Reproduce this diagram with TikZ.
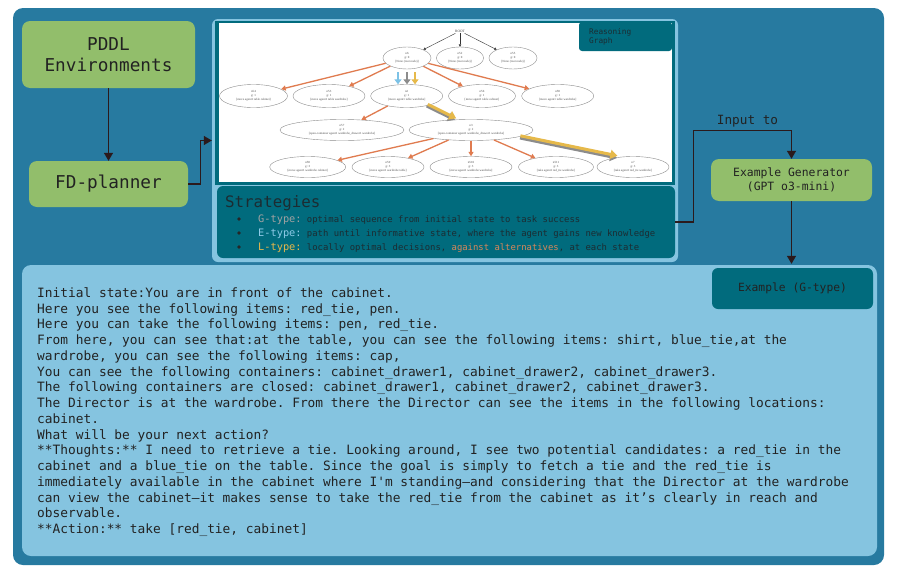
\documentclass[tikz,border=0pt]{standalone}
\usepackage{fontspec}
\setmonofont{DejaVu Sans Mono}
\newfontfamily\gfont{Liberation Serif}
\usetikzlibrary{shapes.geometric,arrows.meta,calc}
\definecolor{outerblue}{HTML}{277AA0}
\definecolor{lightpanel}{HTML}{85C4E0}
\definecolor{tealbox}{HTML}{016B7D}
\definecolor{greenbox}{HTML}{92BE6B}
\definecolor{connc}{HTML}{2B1A1C}
\definecolor{txtdark}{HTML}{222222}
\definecolor{orangee}{HTML}{E07B4F}
\definecolor{blueA}{HTML}{7DC2E6}
\definecolor{grayA}{HTML}{8C8C8C}
\definecolor{yellowA}{HTML}{E6B94A}
\definecolor{gtypec}{HTML}{A2A2A2}
\definecolor{etypec}{HTML}{8FCBE8}
\definecolor{ltypec}{HTML}{E8B84A}
\definecolor{altc}{HTML}{D9875A}
\definecolor{desc}{HTML}{1C2C32}
\begin{document}
\begin{tikzpicture}[x=1pt,y=-1pt,
  greenbox/.style={fill=greenbox,rounded corners=8pt,inner sep=0pt,align=center,text=txtdark},
  tealnode/.style={fill=tealbox,rounded corners=6pt,inner sep=0pt,align=center,text=txtdark},
  conn/.style={draw=connc,line width=1.3pt,-{Triangle[length=8pt,width=9pt]}},
  gnode/.style={ellipse,draw=black!45,line width=0.4pt,fill=white,inner sep=0pt,align=center,text=black!70,
    font=\gfont\fontsize{3.1}{4.1}\selectfont},
  oedge/.style={draw=orangee,line width=1.3pt,-{Triangle[length=4.5pt,width=5pt]}},
  redge/.style={draw=black!80,line width=0.4pt,-{Triangle[length=2.5pt,width=2.5pt]}},
  shortarrow/.style={line width=2.6pt,-{Triangle[length=5pt,width=7pt]}},
  pathG/.style={draw=grayA,line width=3pt,-{Triangle[length=7pt,width=9pt]}},
  pathY/.style={draw=yellowA,line width=3pt,-{Triangle[length=7pt,width=9pt]}},
]
\useasboundingbox (0,0) rectangle (899,573);
\fill[white] (0,0) rectangle (899,573);
% outer frame
\fill[outerblue,rounded corners=10pt] (13,8) rectangle (884,565);

% left boxes
\node[greenbox,minimum width=173pt,minimum height=67pt,font=\ttfamily\fontsize{17.7}{21}\selectfont] (pddl) at (108.5,54.5) {PDDL\\Environments};
\node[greenbox,minimum width=159pt,minimum height=46pt,font=\ttfamily\fontsize{17.7}{21}\selectfont] (fd) at (108.5,184) {FD-planner};

% upper light panel
\node[fill=lightpanel,rounded corners=6pt,minimum width=466pt,minimum height=243pt,inner sep=0pt] (panel) at (445,140.5) {};
% graph frame
\node[fill=tealbox,minimum width=460pt,minimum height=164pt,inner sep=0pt] (gframe) at (445,103) {};
\node[fill=white,minimum width=453pt,minimum height=159pt,inner sep=0pt] (gwhite) at (445.5,102.5) {};
\node[fill=tealbox,rounded corners=3pt,minimum width=93pt,minimum height=29pt,inner sep=0pt] (rgbox) at (625.5,36.5) {};
\node[anchor=north west,inner sep=0pt,align=left,text=desc,font=\ttfamily\fontsize{7.75}{9}\selectfont] (rglabel) at (589,28) {Reasoning\\Graph};

% graph nodes
\node[font=\gfont\fontsize{3.5}{4}\selectfont,inner sep=1pt,text=black!75] (root) at (460,31) {ROOT};
\node[gnode,minimum width=48pt,minimum height=22pt] (n6) at (407,58) {n6\\g: 0\\{}[None (root node)]};
\node[gnode,minimum width=47pt,minimum height=22pt] (n52) at (460,58) {n52\\g: 0\\{}[None (root node)]};
\node[gnode,minimum width=48pt,minimum height=22pt] (n55) at (513,58) {n55\\g: 0\\{}[None (root node)]};

\node[gnode,minimum width=68pt,minimum height=23pt] (a54) at (253.5,96) {n54\\g: 1\\{}[move agent1 table cabinet]};
\node[gnode,minimum width=72pt,minimum height=23pt] (a53) at (329,96) {n53\\g: 1\\{}[move agent1 table wardrobe]};
\node[gnode,minimum width=72pt,minimum height=23pt] (n2) at (406.7,96) {n2\\g: 1\\{}[move agent1 table wardrobe]};
\node[gnode,minimum width=67pt,minimum height=23pt] (a56) at (482,96) {n56\\g: 1\\{}[move agent1 table cabinet]};
\node[gnode,minimum width=72pt,minimum height=23pt] (a58) at (557.7,96) {n58\\g: 1\\{}[move agent1 table wardrobe]};

\node[gnode,minimum width=124pt,minimum height=21pt] (n57) at (342,130) {n57\\g: 2\\{}[open-container agent1 wardrobe\_drawer1 wardrobe]};
\node[gnode,minimum width=124pt,minimum height=21pt] (n3) at (471,130) {n3\\g: 2\\{}[open-container agent1 wardrobe\_drawer1 wardrobe]};

\node[gnode,minimum width=76pt,minimum height=21pt] (b58) at (307.7,167) {n58\\g: 3\\{}[move agent1 wardrobe cabinet]};
\node[gnode,minimum width=72pt,minimum height=21pt] (b59) at (388,167) {n59\\g: 3\\{}[move agent1 wardrobe table]};
\node[gnode,minimum width=82pt,minimum height=21pt] (b510) at (471,167) {n510\\g: 3\\{}[move agent1 wardrobe wardrobe]};
\node[gnode,minimum width=75pt,minimum height=21pt] (b511) at (556,167) {n511\\g: 3\\{}[take agent1 red\_tie wardrobe]};
\node[gnode,minimum width=72pt,minimum height=21pt] (n7) at (633,167) {n7\\g: 3\\{}[take agent1 red\_tie wardrobe]};

% graph edges
\draw[redge] (root) -- (n6);
\draw[redge] (root) -- (n52);
\draw[redge] (root) -- (n55);
\draw[oedge] (n6) -- (a54);
\draw[oedge] (n6) -- (a53);
\draw[oedge] (n6) -- (a56);
\draw[oedge] (n6) -- (a58);
\draw[oedge] (n2) -- (n57);
\draw[oedge] (n3) -- (b58);
\draw[oedge] (n3) -- (b59);
\draw[oedge] (n3) -- (b510);
\draw[oedge] (n3) -- (b511);
\draw[shortarrow,draw=blueA] ($(n6.south)+(-9,3)$) -- ($(n2.north)+(-8.7,0)$);
\draw[shortarrow,draw=grayA] ($(n6.south)+(0,3)$) -- ($(n2.north)+(0.3,0)$);
\draw[shortarrow,draw=yellowA] ($(n6.south)+(8,3)$) -- ($(n2.north)+(8.3,0)$);
\draw[pathG] ($(n2.center)+(20,10)$) -- ($(n3.center)+(-16,-10)$);
\draw[pathY,transform canvas={xshift=1.2pt,yshift=1.6pt}] ($(n2.center)+(20,10)$) -- ($(n3.center)+(-16,-10)$);
\draw[pathG] ($(n3.center)+(49,8)$) -- ($(n7.center)+(-16,-9)$);
\draw[pathY,transform canvas={xshift=0.4pt,yshift=2.2pt}] ($(n3.center)+(49,8)$) -- ($(n7.center)+(-16,-9)$);

% strategies
\node[tealnode,minimum width=458pt,minimum height=72pt] (strat) at (446,222) {};
\node[anchor=base west,inner sep=0pt,text=desc,font=\ttfamily\fontsize{15.8}{18}\selectfont] (sttitle) at (225,207) {Strategies};
\fill[black!85] (239,219) circle (1.8);
\fill[black!85] (239,233) circle (1.8);
\fill[black!85] (239,247) circle (1.8);
\node[anchor=base west,inner sep=0pt,text=desc,font=\ttfamily\fontsize{8.9}{10}\selectfont] (s1) at (258,222)
  {{\fontsize{10.3}{12}\selectfont\color{gtypec}G-type:} optimal sequence from initial state to task success};
\node[anchor=base west,inner sep=0pt,text=desc,font=\ttfamily\fontsize{8.9}{10}\selectfont] (s2) at (258,236)
  {{\fontsize{10.3}{12}\selectfont\color{etypec}E-type:} path until informative state, where the agent gains new knowledge};
\node[anchor=base west,inner sep=0pt,text=desc,font=\ttfamily\fontsize{8.9}{10}\selectfont] (s3) at (258,250)
  {{\fontsize{10.3}{12}\selectfont\color{ltypec}L-type:} locally optimal decisions, {\color{altc}against alternatives}, at each state};

% right side
\node[greenbox,minimum width=161pt,minimum height=42pt,font=\ttfamily\fontsize{11.4}{14}\selectfont] (gen) at (791.5,180) {Example Generator\\(GPT o3-mini)};

% bottom panel
\node[fill=lightpanel,rounded corners=9pt,minimum width=855pt,minimum height=291pt,inner sep=0pt] (bottom) at (449.5,410.5) {};
\node[tealnode,minimum width=161pt,minimum height=41pt,font=\ttfamily\fontsize{11.3}{13}\selectfont] (ex) at (792.5,288.5) {Example (G-type)};

\node[anchor=north west,inner sep=0pt,align=left,text=txtdark,font=\ttfamily\fontsize{12.84}{15.75}\selectfont] (body) at (37,287.3) {%
Initial state:You are in front of the cabinet.\\
Here you see the following items: red\_tie, pen.\\
Here you can take the following items: pen, red\_tie.\\
From here, you can see that:at the table, you can see the following items: shirt, blue\_tie,at the\\
wardrobe, you can see the following items: cap,\\
You can see the following containers: cabinet\_drawer1, cabinet\_drawer2, cabinet\_drawer3.\\
The following containers are closed: cabinet\_drawer1, cabinet\_drawer2, cabinet\_drawer3.\\
The Director is at the wardrobe. From there the Director can see the items in the following locations:\\
cabinet.\\
What will be your next action?\\
**Thoughts:** I need to retrieve a tie. Looking around, I see two potential candidates: a red\_tie in the\\
cabinet and a blue\_tie on the table. Since the goal is simply to fetch a tie and the red\_tie is\\
immediately available in the cabinet where I'm standing—and considering that the Director at the wardrobe\\
can view the cabinet—it makes sense to take the red\_tie from the cabinet as it’s clearly in reach and\\
observable.\\
**Action:** take [red\_tie, cabinet]};

% connectors
\draw[conn] (pddl.south) -- (fd.north);
\draw[conn] (fd.east) -- ++(12,0) |- (panel.west);
\draw[conn] (strat.east) -- ++(18,0) |- ($(gen.north)+(0,-28)$) -- (gen.north);
\node[inner sep=0pt,text=txtdark,font=\ttfamily\fontsize{12.7}{14}\selectfont] (inputlbl) at (747.5,121) {Input to};
\draw[conn] (gen.south) -- ($(gen.south |- bottom.north)+(0,-1)$);
\end{tikzpicture}
\end{document}
